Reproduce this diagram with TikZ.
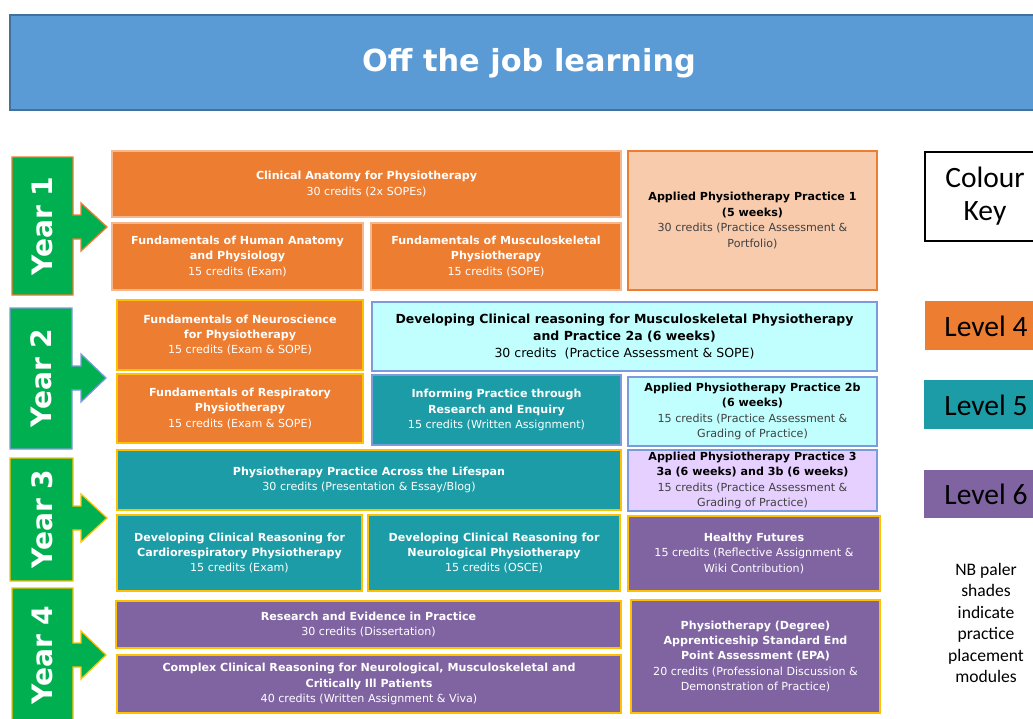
\documentclass[tikz,border=0pt]{standalone}
\usepackage{fontspec}
\setmainfont{DejaVu Sans}
\newfontfamily\keyfont{Carlito}

\definecolor{lvfour}{RGB}{237,125,49}
\definecolor{lvfourpale}{RGB}{248,203,173}
\definecolor{lvfive}{RGB}{28,156,166}
\definecolor{lvfivepale}{RGB}{193,255,255}
\definecolor{lvsix}{RGB}{128,100,162}
\definecolor{lvsixpale}{RGB}{230,208,255}
\definecolor{yeargreen}{RGB}{0,176,80}
\definecolor{goldline}{RGB}{255,192,0}
\definecolor{blueline}{RGB}{125,155,220}
\definecolor{headblue}{RGB}{91,155,213}
\definecolor{headline}{RGB}{65,113,156}
\definecolor{darktext}{RGB}{64,64,64}

\def\pu{0.025cm}

\begin{document}
\begin{tikzpicture}[
  x=0.025cm, y=-0.025cm,
  mod/.style={rectangle, draw, line width=0.9pt, inner xsep=1pt, inner ysep=0pt, align=center, text=white, font=\fontsize{7.9}{11}\selectfont},
  four/.style={mod, fill=lvfour, draw=goldline},
  fourpale/.style={mod, fill=lvfourpale, draw=lvfour, text=black},
  five/.style={mod, fill=lvfive, draw=goldline},
  fivepale/.style={mod, fill=lvfivepale, draw=blueline, text=black},
  six/.style={mod, fill=lvsix, draw=goldline},
  sixpale/.style={mod, fill=lvsixpale, draw=blueline, text=black},
  yearbox/.style={fill=yeargreen, line width=0.9pt},
  yeartext/.style={rotate=90, text=white, font=\bfseries\fontsize{20}{23}\selectfont},
  keybox/.style={line width=0.8pt},
  keytext/.style={font=\keyfont\fontsize{21}{24}\selectfont, align=center}
]
\useasboundingbox (0,0) rectangle (1033,718);

% header
\fill[headblue, draw=headline, line width=0.8pt] (10,15) rectangle (1045,110);
\node[text=white, font=\bfseries\fontsize{21.6}{26}\selectfont] (title) at (529,63) {Off the job learning};

% year markers
\draw[yearbox, draw=lvfour] (12,157) -- (73,157) -- (73,215) -- (81,215) -- (81,203) -- (107,227) -- (81,251) -- (81,239) -- (73,239) -- (73,295) -- (12,295) -- cycle;
\node[yeartext] (y1) at (42,226) {Year 1};
\draw[yearbox, draw=blueline] (10,308) -- (72,308) -- (72,366) -- (81,366) -- (81,354) -- (106,378) -- (81,402) -- (81,390) -- (72,390) -- (72,449) -- (10,449) -- cycle;
\node[yeartext] (y2) at (41,378) {Year 2};
\draw[yearbox, draw=goldline] (10,458) -- (73,458) -- (73,506) -- (81,506) -- (81,494) -- (107,518) -- (81,542) -- (81,530) -- (73,530) -- (73,581) -- (10,581) -- cycle;
\node[yeartext] (y3) at (42,519) {Year 3};
\draw[yearbox, draw=goldline] (12,588) -- (73,588) -- (73,643) -- (81,643) -- (81,631) -- (106,655) -- (81,679) -- (81,667) -- (73,667) -- (73,730) -- (12,730) -- cycle;
\node[yeartext] (y4) at (42,655) {Year 4};

% year 1
\node[four, draw=lvfour!55!white, minimum width=509*\pu, minimum height=66*\pu] (cap) at (366.5,184) {\textbf{Clinical Anatomy for Physiotherapy}\\30 credits (2x SOPEs)};
\node[four, draw=lvfour!55!white, minimum width=251*\pu, minimum height=67*\pu] (fha) at (237.5,256.5) {\textbf{Fundamentals of Human Anatomy}\\\textbf{and Physiology}\\15 credits (Exam)};
\node[four, draw=lvfour!55!white, minimum width=250*\pu, minimum height=67*\pu] (fmsk) at (496,256.5) {\textbf{Fundamentals of Musculoskeletal}\\\textbf{Physiotherapy}\\15 credits (SOPE)};
\node[fourpale, minimum width=249*\pu, minimum height=139*\pu] (app1) at (752.5,220.5) {\textbf{Applied Physiotherapy Practice 1}\\\textbf{(5 weeks)}\\\textcolor{darktext}{30 credits (Practice Assessment \&}\\\textcolor{darktext}{Portfolio)}};

% year 2
\node[four, minimum width=246*\pu, minimum height=70*\pu] (fneu) at (240,335) {\textbf{Fundamentals of Neuroscience}\\\textbf{for Physiotherapy}\\15 credits (Exam \& SOPE)};
\node[four, minimum width=246*\pu, minimum height=69*\pu] (fresp) at (240,408.5) {\textbf{Fundamentals of Respiratory}\\\textbf{Physiotherapy}\\15 credits (Exam \& SOPE)};
\node[fivepale, font=\fontsize{8.9}{12.2}\selectfont, minimum width=505*\pu, minimum height=69*\pu] (dmsk) at (624.5,336.5) {\textbf{Developing Clinical reasoning for Musculoskeletal Physiotherapy}\\\textbf{and Practice 2a (6 weeks)}\\30 credits~~(Practice Assessment \& SOPE)};
\node[five, draw=blueline, minimum width=249*\pu, minimum height=70*\pu] (inf) at (496.5,410) {\textbf{Informing Practice through}\\\textbf{Research and Enquiry}\\15 credits (Written Assignment)};
\node[fivepale, minimum width=249*\pu, minimum height=69*\pu] (app2b) at (752.5,411.5) {\textbf{Applied Physiotherapy Practice 2b}\\\textbf{(6 weeks)}\\\textcolor{darktext}{15 credits (Practice Assessment \&}\\\textcolor{darktext}{Grading of Practice)}};

% year 3
\node[five, minimum width=504*\pu, minimum height=60*\pu] (life) at (369,480) {\textbf{Physiotherapy Practice Across the Lifespan}\\30 credits (Presentation \& Essay/Blog)};
\node[five, minimum width=245*\pu, minimum height=76*\pu] (dcard) at (239.5,553) {\textbf{Developing Clinical Reasoning for}\\\textbf{Cardiorespiratory Physiotherapy}\\15 credits (Exam)};
\node[five, minimum width=252*\pu, minimum height=76*\pu] (dneu) at (494,553) {\textbf{Developing Clinical Reasoning for}\\\textbf{Neurological Physiotherapy}\\15 credits (OSCE)};
\node[sixpale, minimum width=249*\pu, minimum height=61*\pu] (app3) at (752.5,480.5) {\textbf{Applied Physiotherapy Practice 3}\\\textbf{3a (6 weeks) and 3b (6 weeks)}\\\textcolor{darktext}{15 credits (Practice Assessment \&}\\\textcolor{darktext}{Grading of Practice)}};
\node[six, minimum width=252*\pu, minimum height=75*\pu] (hf) at (754,553.5) {\textbf{Healthy Futures}\\15 credits (Reflective Assignment \&\\Wiki Contribution)};

% year 4
\node[six, minimum width=505*\pu, minimum height=47*\pu] (rev) at (368.5,624.5) {\textbf{Research and Evidence in Practice}\\30 credits (Dissertation)};
\node[six, minimum width=504*\pu, minimum height=58*\pu] (ccr) at (369,684) {\textbf{Complex Clinical Reasoning for Neurological, Musculoskeletal and}\\\textbf{Critically Ill Patients}\\40 credits (Written Assignment \& Viva)};
\node[six, minimum width=249*\pu, minimum height=113*\pu] (epa) at (755.5,656.5) {\textbf{Physiotherapy (Degree)}\\\textbf{Apprenticeship Standard End}\\\textbf{Point Assessment (EPA)}\\20 credits (Professional Discussion \&\\Demonstration of Practice)};

% colour key
\draw[keybox, fill=white] (925,152) rectangle (1045,241);
\node[keytext] (key) at (985,196) {Colour\\Key};
\fill[lvfour] (925,301) rectangle (1045,350);
\node[keytext] (k4) at (986,326) {Level 4};
\fill[lvfive] (924,380) rectangle (1045,429);
\node[keytext] (k5) at (986,405) {Level 5};
\fill[lvsix] (924,470) rectangle (1045,518);
\node[keytext] (k6) at (986,494) {Level 6};
\node[font=\keyfont\fontsize{12.5}{15.3}\selectfont, align=center] (nb) at (986,623) {NB paler\\shades\\indicate\\practice\\placement\\modules};

\end{tikzpicture}
\end{document}
